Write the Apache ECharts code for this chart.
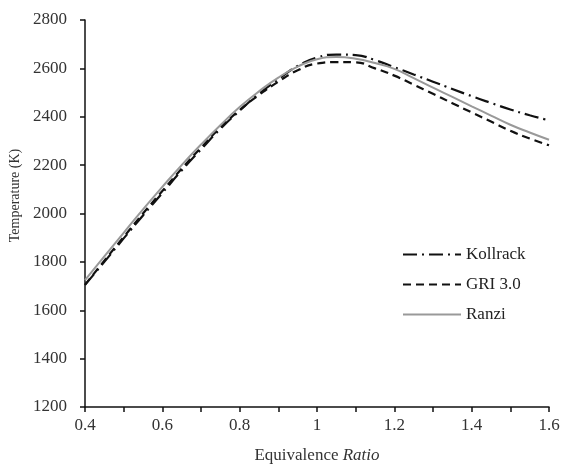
<!DOCTYPE html>
<html><head><meta charset="utf-8">
<script src="https://cdn.jsdelivr.net/npm/echarts@6/dist/echarts.min.js"></script>
<style>html,body{margin:0;padding:0;background:#fff}#c{width:565px;height:469px}</style>
</head><body><div id="c"></div>
<script>
const phi = [0.4,0.45,0.5,0.55,0.6,0.65,0.7,0.75,0.8,0.85,0.9,0.95,1.0,1.05,1.1,1.15,1.2,1.25,1.3,1.35,1.4,1.45,1.5,1.55,1.6];
const kollrack = [1705,1800,1897,1992,2085,2178,2265,2350,2425,2495,2555,2610,2645,2657,2655,2634,2605,2575,2545,2515,2485,2457,2430,2406,2385];
const gri      = [1705,1805,1903,2000,2093,2185,2272,2355,2428,2490,2545,2592,2620,2626,2625,2600,2570,2533,2495,2456,2418,2380,2342,2310,2282];
const ranzi    = [1725,1823,1920,2017,2110,2200,2285,2365,2440,2505,2562,2607,2638,2647,2640,2622,2598,2560,2520,2482,2443,2405,2367,2335,2305];
const names = ['Kollrack','GRI 3.0','Ranzi'];
const yTicks = [1200,1400,1600,1800,2000,2200,2400,2600,2800];

const font = 'Liberation Serif';
const chart = echarts.init(document.getElementById('c'), null, {renderer:'canvas'});
const mk = arr => phi.map((x,i)=>[x,arr[i]]);
chart.setOption({
  animation:false,
  backgroundColor:'#fff',
  grid:{left:81,right:16,top:20,bottom:60,containLabel:false},
  legend:{
    orient:'vertical', left:397, top:241, itemWidth:58, itemHeight:14, itemGap:13,
    textStyle:{fontFamily:font,fontSize:17,color:'#222'},
    itemStyle:{opacity:0},
    data:names
  },
  xAxis:{
    type:'value', min:0.4, max:1.6, interval:0.1,
    name:'Equivalence {i|Ratio}', nameLocation:'middle', nameGap:40,
    nameTextStyle:{fontFamily:font,fontSize:17,color:'#333',
      rich:{i:{fontFamily:font,fontSize:17,fontStyle:'italic',color:'#333'}}},
    axisLine:{lineStyle:{color:'#111',width:1.5}},
    axisTick:{inside:false,length:5,lineStyle:{color:'#111',width:1.5}},
    axisLabel:{fontFamily:font,fontSize:17,color:'#333',margin:10,
      formatter:v=>{const k=Math.round(v*10); return k%2===0? String(+(k/10).toFixed(1)) : '';}},
    splitLine:{show:false}
  },
  yAxis:{
    type:'value', min:yTicks[0], max:yTicks[yTicks.length-1], interval:200,
    name:'Temperature (K)', nameLocation:'middle', nameGap:63, nameRotate:90,
    nameTextStyle:{fontFamily:font,fontSize:14,color:'#333',padding:[0,0,0,36]},
    axisLine:{show:true,lineStyle:{color:'#111',width:1.5}},
    axisTick:{show:true,length:5,lineStyle:{color:'#111',width:1.5}},
    axisLabel:{fontFamily:font,fontSize:17,color:'#333',margin:18,formatter:v=>String(v)},
    splitLine:{show:false}
  },
  series:[
    {name:names[0],type:'line',data:mk(kollrack),smooth:true,showSymbol:false,symbol:'none',
      lineStyle:{color:'#111',width:2.2,type:[14,5,2,5]},itemStyle:{color:'#111'},z:3},
    {name:names[1],type:'line',data:mk(gri),smooth:true,showSymbol:false,symbol:'none',
      lineStyle:{color:'#111',width:2.2,type:[8,5]},itemStyle:{color:'#111'},z:2},
    {name:names[2],type:'line',data:mk(ranzi),smooth:true,showSymbol:false,symbol:'none',
      lineStyle:{color:'#999',width:2},itemStyle:{color:'#999'},z:4}
  ]
});
</script></body></html>
